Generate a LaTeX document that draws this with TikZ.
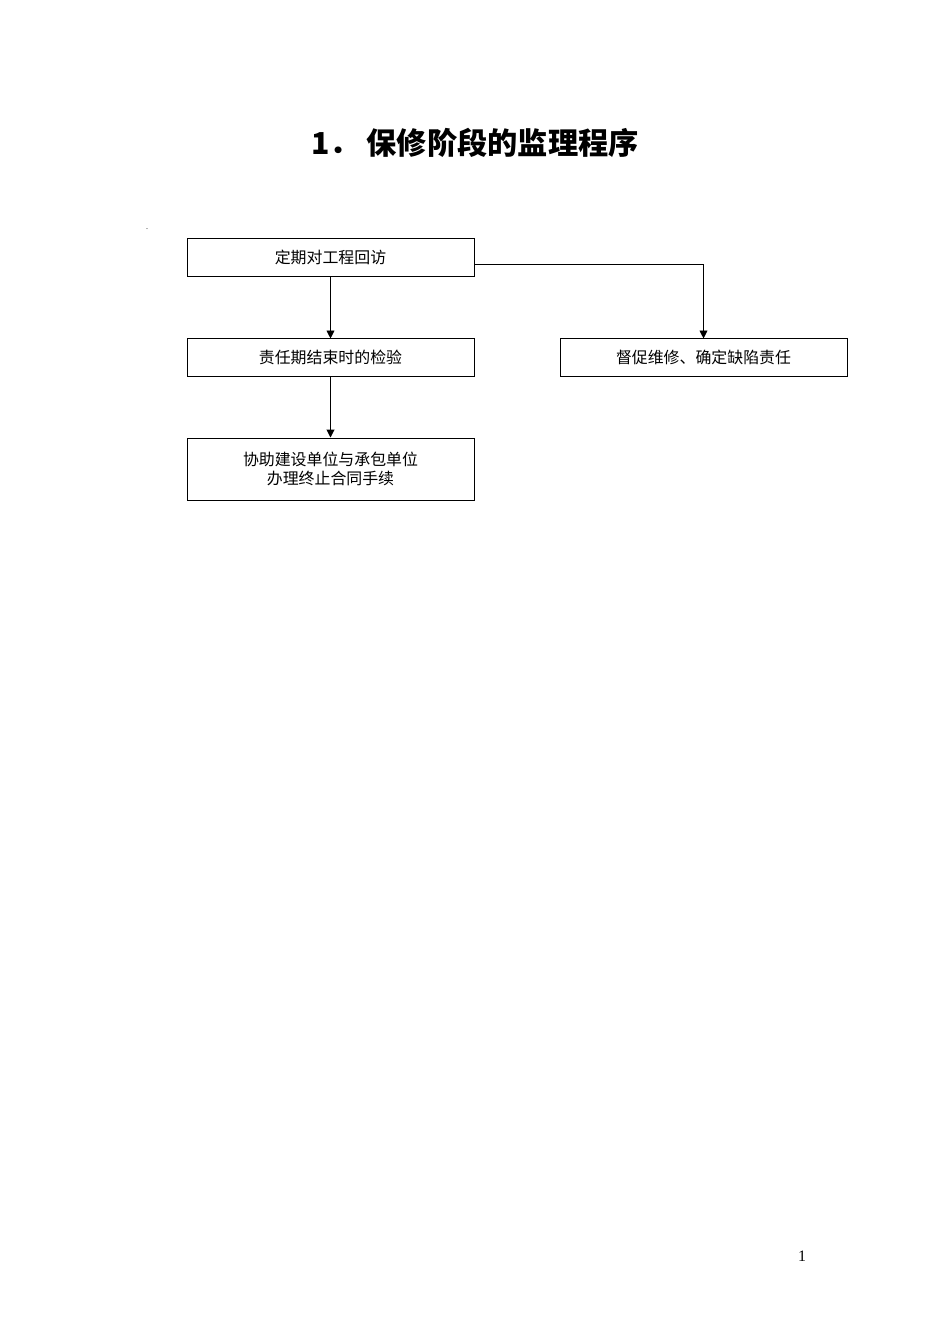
\documentclass[tikz,border=0pt]{standalone}
\usepackage{fontspec}
\newfontfamily\cjk{Noto Sans CJK SC}
\setmainfont{Liberation Serif}
\usetikzlibrary{arrows.meta}
\tikzset{
  stepbox/.style = {draw, line width=0.6pt, minimum width=6.34cm, minimum height=0.82cm,
    font=\cjk\fontsize{10}{12}\selectfont, align=center, inner sep=1pt},
  flow/.style = {-{Triangle[length=5pt,width=5pt]}, line width=0.6pt}
}
\begin{document}
\begin{tikzpicture}[x=0.0221cm, y=-0.0221cm]
    \useasboundingbox (0,0) rectangle (950,1344);

    \node (title) at (475,143) {\cjk\bfseries\fontsize{19}{22}\selectfont 1．\ 保修阶段的监理程序};
    \node[font=\tiny] (dot) at (147,229) {.};

    \node[stepbox] (visit) at (330.5,257.5) {定期对工程回访};
    \node[stepbox] (check) at (330.5,357.5) {责任期结束时的检验};
    \node[stepbox] (repair) at (703.5,357.5) {督促维修、确定缺陷责任};
    \node[stepbox, minimum height=1.37cm] (close) at (330.5,469) {协助建设单位与承包单位\\办理终止合同手续};

    \draw[flow] (visit) -- (check);
    \draw[flow] (check) -- (close);
    \draw[flow] (visit.east |- 0,264) -| (repair.north);

    \node[font=\fontsize{10}{12}\selectfont] (page) at (802,1256) {1};
\end{tikzpicture}
\end{document}
